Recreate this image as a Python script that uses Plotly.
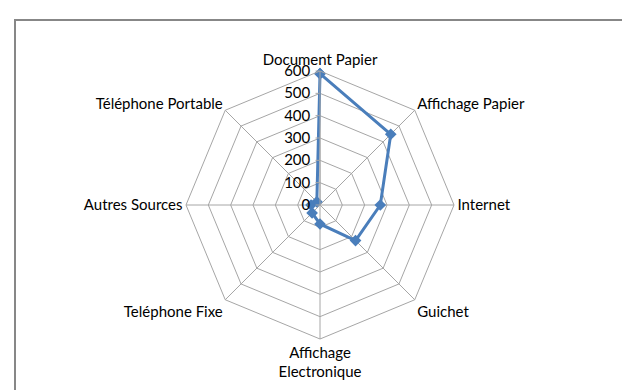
import plotly.graph_objects as go

# Categories and values
categories = ["Document Papier", "Affichage Papier", "Internet", "Guichet",
              "Affichage<br>Electronique", "Teléphone Fixe", "Autres Sources",
              "Téléphone Portable"]
values = [588, 448, 270, 225, 85, 50, 40, 20]
tick_vals = [0, 100, 200, 300, 400, 500, 600]

blue = "#4A7EBB"
grid = "#A6A6A6"

fig = go.Figure()

# close the polygon by repeating the first point
fig.add_trace(go.Scatterpolar(
    r=values + values[:1],
    theta=categories + categories[:1],
    mode="lines+markers",
    line=dict(color=blue, width=3),
    marker=dict(symbol="diamond", size=9, color=blue),
    showlegend=False,
))

fig.update_layout(
    width=630,
    height=390,
    margin=dict(l=0, r=0, t=0, b=0),
    paper_bgcolor="white",
    font=dict(family="Lato, Open Sans, sans-serif", size=13, color="#000000"),
    polar=dict(
        domain=dict(x=[178 / 630, 446 / 630], y=[59 / 390, 327 / 390]),
        gridshape="linear",
        bgcolor="white",
        angularaxis=dict(
            rotation=90,
            direction="clockwise",
            showline=True,
            linecolor=grid,
            linewidth=1,
            gridcolor=grid,
            gridwidth=1,
            ticks="",
            tickfont=dict(size=15),
        ),
        radialaxis=dict(
            range=[0, 600],
            tickvals=tick_vals,
            angle=90,
            tickangle=90,
            side="counterclockwise",
            showline=True,
            linecolor=grid,
            gridcolor=grid,
            gridwidth=1,
            ticks="outside",
            ticklen=4,
            tickcolor=grid,
            tickfont=dict(size=15),
        ),
    ),
    shapes=[dict(
        type="rect", xref="paper", yref="paper",
        x0=7 / 630, x1=1.02, y0=-0.02, y1=1 - 12 / 390,
        line=dict(color="#878787", width=2),
    )],
)

fig.write_html("out.html")
